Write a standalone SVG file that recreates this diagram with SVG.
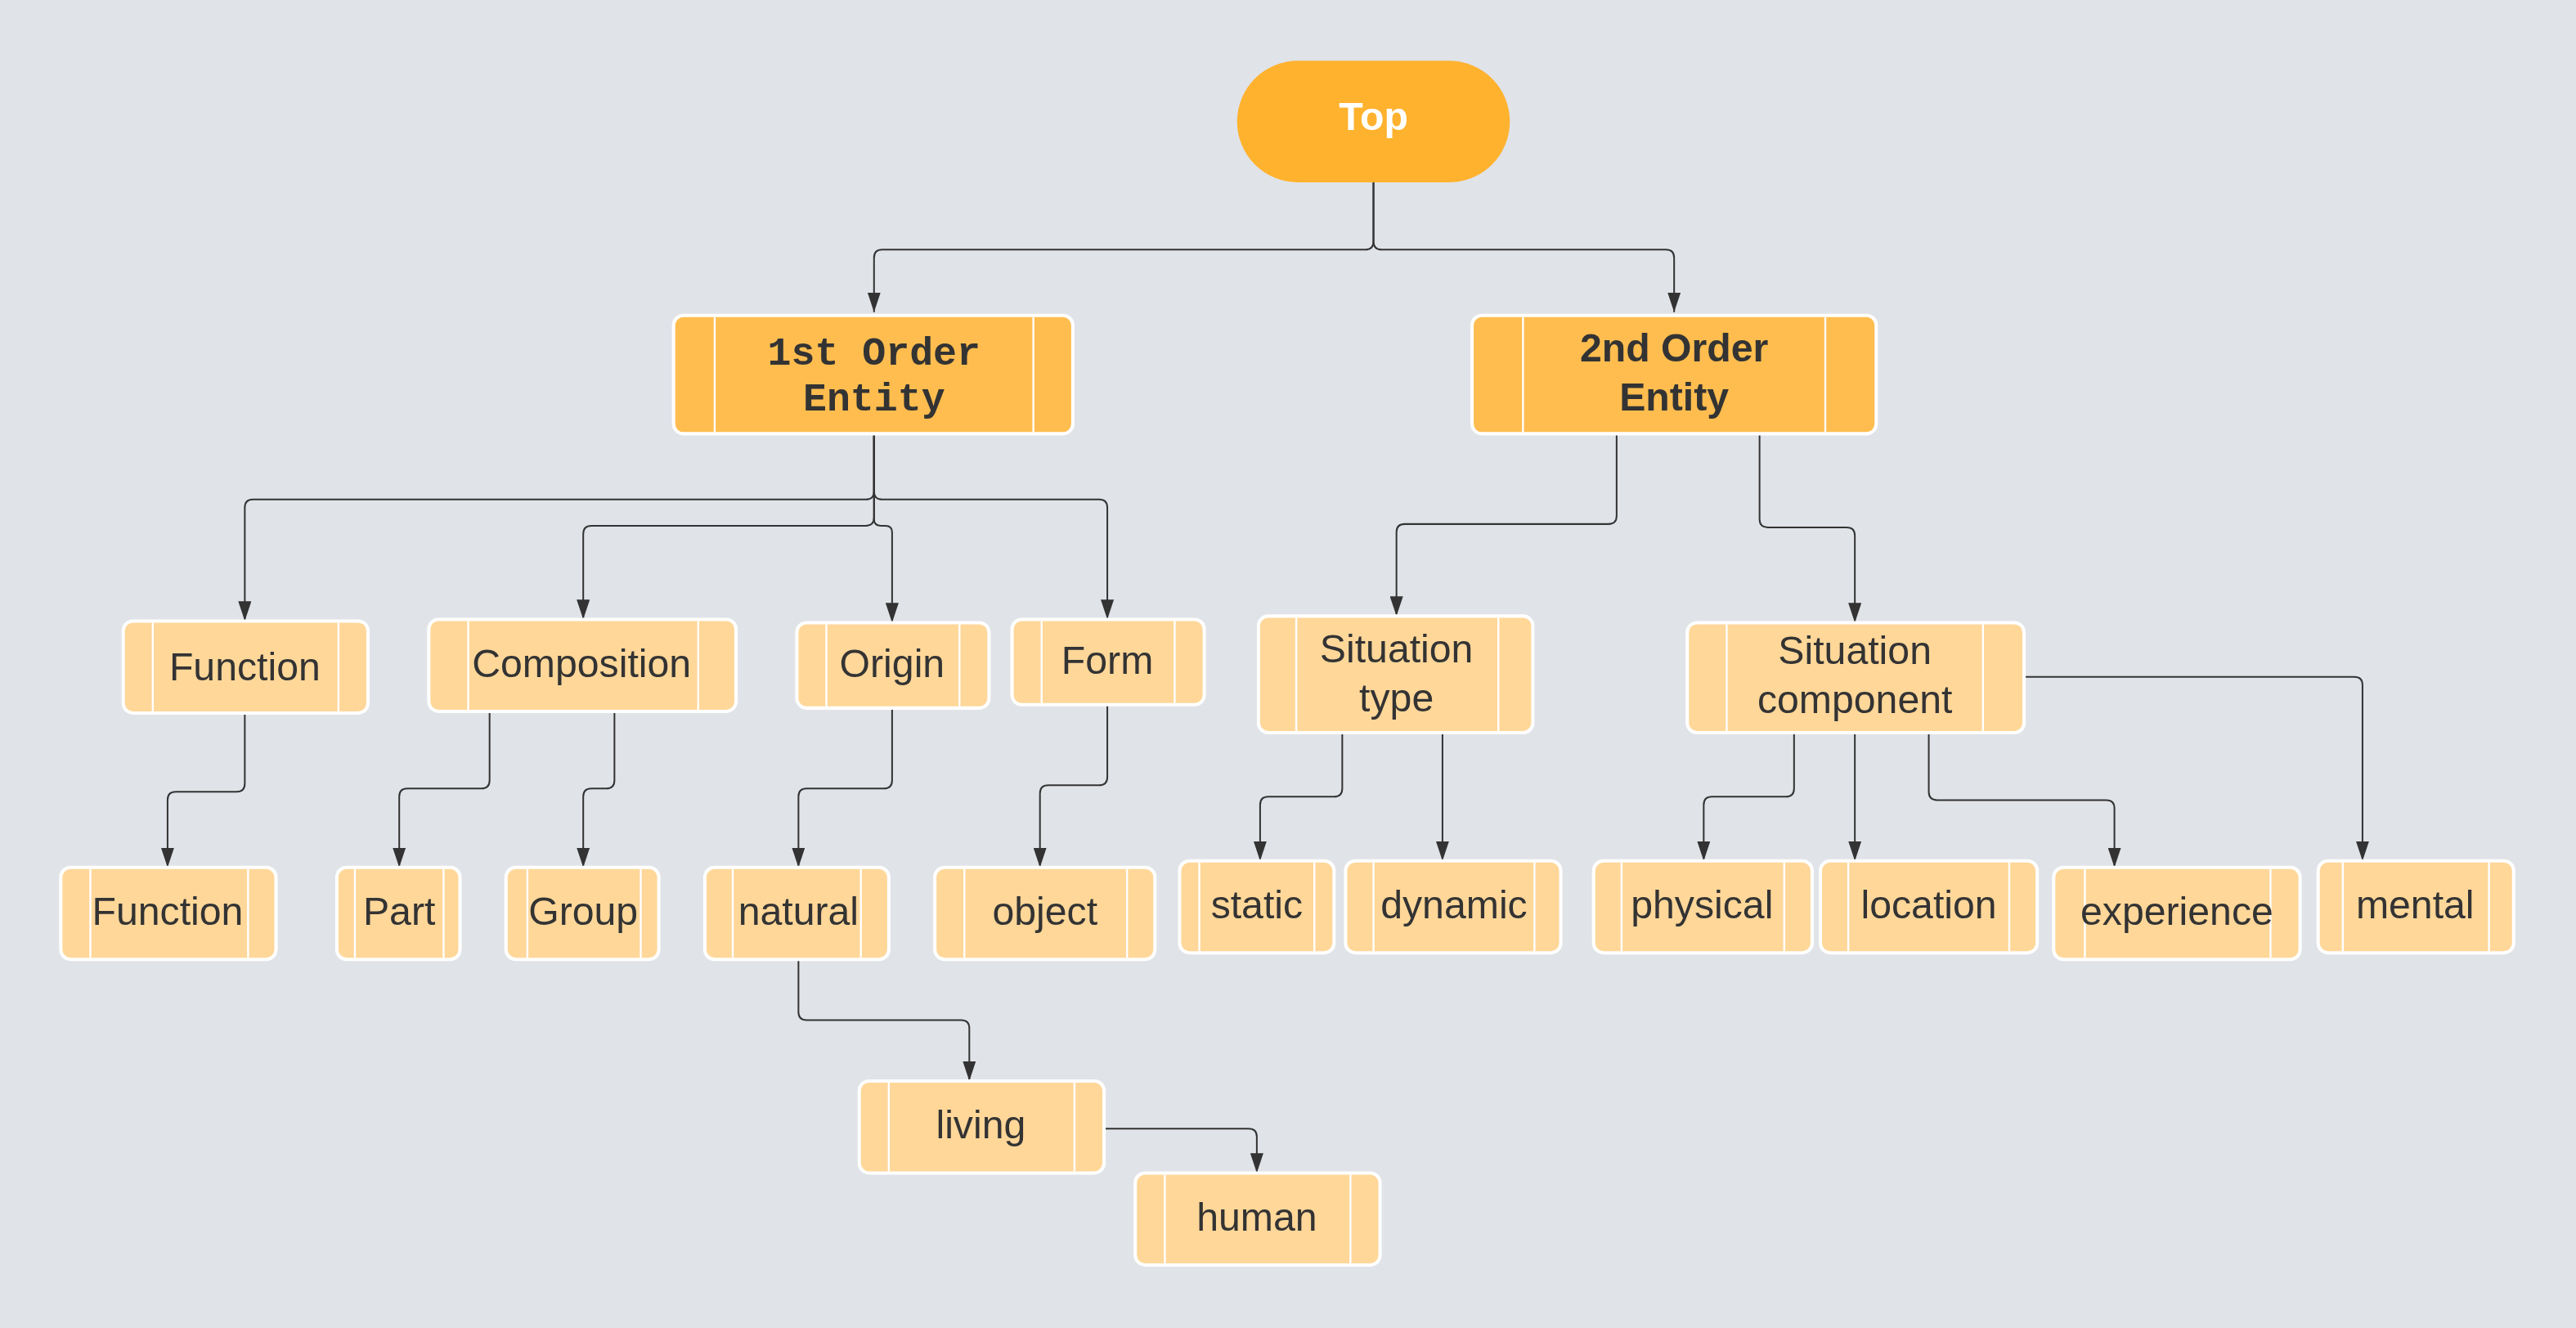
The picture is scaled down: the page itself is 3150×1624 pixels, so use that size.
<svg xmlns="http://www.w3.org/2000/svg" width="3150" height="1624" viewBox="0 0 3150 1624">
<style>
.bg{fill:#E0E3E8}
.n rect{stroke:#fff;stroke-width:2}
.n line{stroke:#fff;stroke-width:1.2}
.c rect{fill:#FFD799}
.o rect{fill:#FFBD4F}
.t{font-family:"Liberation Sans",Arial,sans-serif;font-size:24px;fill:#333;text-anchor:middle}
.m{font-family:"Liberation Mono","DejaVu Sans Mono",monospace;font-size:24px;font-weight:bold;fill:#333;text-anchor:middle}
.b{font-weight:bold}
#conn path{fill:none;stroke:#333;stroke-width:1}
</style>
<defs><marker id="a" markerUnits="userSpaceOnUse" markerWidth="12" markerHeight="8" refX="12" refY="4" orient="auto"><path d="M0,0 L12,4 L0,8 z" fill="#333"/></marker></defs>
<rect class="bg" width="3150" height="1624"/>
<g transform="scale(2.009)">
<g id="conn">
<path marker-end="url(#a)" d="M836 111 V147 Q836 152 831 152 H537 Q532 152 532 157 V190"/>
<path marker-end="url(#a)" d="M836 111 V147 Q836 152 841 152 H1014 Q1019 152 1019 157 V190"/>
<path marker-end="url(#a)" d="M532 264 V299 Q532 304 527 304 H154 Q149 304 149 309 V378"/>
<path marker-end="url(#a)" d="M532 264 V315 Q532 320 527 320 H360 Q355 320 355 325 V377"/>
<path marker-end="url(#a)" d="M532 264 V316 Q532 320 536 320 H539 Q543 320 543 324 V379"/>
<path marker-end="url(#a)" d="M532 264 V299 Q532 304 537 304 H669 Q674 304 674 309 V377"/>
<path marker-end="url(#a)" d="M984 264 V314 Q984 319 979 319 H855 Q850 319 850 324 V375"/>
<path marker-end="url(#a)" d="M1071 264 V316 Q1071 321 1076 321 H1124 Q1129 321 1129 326 V379"/>
<path marker-end="url(#a)" d="M149 434 V477 Q149 482 144 482 H107 Q102 482 102 487 V528"/>
<path marker-end="url(#a)" d="M298 433 V475 Q298 480 293 480 H248 Q243 480 243 485 V528"/>
<path marker-end="url(#a)" d="M374 433 V475 Q374 480 369 480 H360 Q355 480 355 485 V528"/>
<path marker-end="url(#a)" d="M543 431 V475 Q543 480 538 480 H491 Q486 480 486 485 V528"/>
<path marker-end="url(#a)" d="M674 429 V473 Q674 478 669 478 H638 Q633 478 633 483 V528"/>
<path marker-end="url(#a)" d="M817 446 V480 Q817 485 812 485 H772 Q767 485 767 490 V524"/>
<path marker-end="url(#a)" d="M878 446 V524"/>
<path marker-end="url(#a)" d="M1092 446 V480 Q1092 485 1087 485 H1042 Q1037 485 1037 490 V524"/>
<path marker-end="url(#a)" d="M1129 446 V524"/>
<path marker-end="url(#a)" d="M1174 446 V482 Q1174 487 1179 487 H1282 Q1287 487 1287 492 V528"/>
<path marker-end="url(#a)" d="M1232 412 H1433 Q1438 412 1438 417 V524"/>
<path marker-end="url(#a)" d="M486 584 V616 Q486 621 491 621 H585 Q590 621 590 626 V658"/>
<path marker-end="url(#a)" d="M672 687 H760 Q765 687 765 692 V714"/>
</g>
<g id="top"><rect x="753" y="37" width="166" height="74" rx="37" fill="#FFB22E"/><text class="t b" x="836" y="79" fill="#fff" style="fill:#fff">Top</text></g>
<g id="first" class="n o"><rect x="410" y="192" width="243" height="72" rx="6"/><line x1="435" y1="193" x2="435" y2="263"/><line x1="629" y1="193" x2="629" y2="263"/><text class="m" x="532" y="222">1st Order</text><text class="m" x="532" y="250">Entity</text></g>
<g id="second" class="n o"><rect x="896" y="192" width="246" height="72" rx="6"/><line x1="927" y1="193" x2="927" y2="263"/><line x1="1111" y1="193" x2="1111" y2="263"/><text class="t b" x="1019" y="220">2nd Order</text><text class="t b" x="1019" y="250">Entity</text></g>
<g id="function1" class="n c"><rect x="75" y="378" width="149" height="56" rx="6"/><line x1="93" y1="379" x2="93" y2="433"/><line x1="206" y1="379" x2="206" y2="433"/><text class="t" x="149" y="414">Function</text></g>
<g id="composition" class="n c"><rect x="261" y="377" width="187" height="56" rx="6"/><line x1="285" y1="378" x2="285" y2="432"/><line x1="425" y1="378" x2="425" y2="432"/><text class="t" x="354" y="412">Composition</text></g>
<g id="origin" class="n c"><rect x="485" y="379" width="117" height="52" rx="6"/><line x1="503" y1="380" x2="503" y2="430"/><line x1="584" y1="380" x2="584" y2="430"/><text class="t" x="543" y="412">Origin</text></g>
<g id="form" class="n c"><rect x="616" y="377" width="117" height="52" rx="6"/><line x1="634" y1="378" x2="634" y2="428"/><line x1="715" y1="378" x2="715" y2="428"/><text class="t" x="674" y="410">Form</text></g>
<g id="sittype" class="n c"><rect x="766" y="375" width="167" height="71" rx="6"/><line x1="789" y1="376" x2="789" y2="445"/><line x1="912" y1="376" x2="912" y2="445"/><text class="t" x="850" y="403">Situation</text><text class="t" x="850" y="433">type</text></g>
<g id="sitcomp" class="n c"><rect x="1027" y="379" width="205" height="67" rx="6"/><line x1="1051" y1="380" x2="1051" y2="445"/><line x1="1207" y1="380" x2="1207" y2="445"/><text class="t" x="1129" y="404">Situation</text><text class="t" x="1129" y="434">component</text></g>
<g id="function2" class="n c"><rect x="37" y="528" width="131" height="56" rx="6"/><line x1="55" y1="529" x2="55" y2="583"/><line x1="151" y1="529" x2="151" y2="583"/><text class="t" x="102" y="563">Function</text></g>
<g id="part" class="n c"><rect x="205" y="528" width="75" height="56" rx="6"/><line x1="216" y1="529" x2="216" y2="583"/><line x1="270" y1="529" x2="270" y2="583"/><text class="t" x="243" y="563">Part</text></g>
<g id="group" class="n c"><rect x="308" y="528" width="93" height="56" rx="6"/><line x1="321" y1="529" x2="321" y2="583"/><line x1="390" y1="529" x2="390" y2="583"/><text class="t" x="355" y="563">Group</text></g>
<g id="natural" class="n c"><rect x="429" y="528" width="112" height="56" rx="6"/><line x1="446" y1="529" x2="446" y2="583"/><line x1="524" y1="529" x2="524" y2="583"/><text class="t" x="486" y="563">natural</text></g>
<g id="object" class="n c"><rect x="569" y="528" width="134" height="56" rx="6"/><line x1="587" y1="529" x2="587" y2="583"/><line x1="686" y1="529" x2="686" y2="583"/><text class="t" x="636" y="563">object</text></g>
<g id="static" class="n c"><rect x="718" y="524" width="94" height="56" rx="6"/><line x1="730" y1="525" x2="730" y2="579"/><line x1="800" y1="525" x2="800" y2="579"/><text class="t" x="765" y="559">static</text></g>
<g id="dynamic" class="n c"><rect x="819" y="524" width="131" height="56" rx="6"/><line x1="836" y1="525" x2="836" y2="579"/><line x1="934" y1="525" x2="934" y2="579"/><text class="t" x="885" y="559">dynamic</text></g>
<g id="physical" class="n c"><rect x="970" y="524" width="133" height="56" rx="6"/><line x1="987" y1="525" x2="987" y2="579"/><line x1="1086" y1="525" x2="1086" y2="579"/><text class="t" x="1036" y="559">physical</text></g>
<g id="location" class="n c"><rect x="1108" y="524" width="132" height="56" rx="6"/><line x1="1125" y1="525" x2="1125" y2="579"/><line x1="1223" y1="525" x2="1223" y2="579"/><text class="t" x="1174" y="559">location</text></g>
<g id="experience" class="n c"><rect x="1250" y="528" width="150" height="56" rx="6"/><line x1="1269" y1="529" x2="1269" y2="583"/><line x1="1382" y1="529" x2="1382" y2="583"/><text class="t" x="1325" y="563">experience</text></g>
<g id="mental" class="n c"><rect x="1411" y="524" width="119" height="56" rx="6"/><line x1="1426" y1="525" x2="1426" y2="579"/><line x1="1515" y1="525" x2="1515" y2="579"/><text class="t" x="1470" y="559">mental</text></g>
<g id="living" class="n c"><rect x="523" y="658" width="149" height="56" rx="6"/><line x1="541" y1="659" x2="541" y2="713"/><line x1="654" y1="659" x2="654" y2="713"/><text class="t" x="597" y="693">living</text></g>
<g id="human" class="n c"><rect x="691" y="714" width="149" height="56" rx="6"/><line x1="709" y1="715" x2="709" y2="769"/><line x1="822" y1="715" x2="822" y2="769"/><text class="t" x="765" y="749">human</text></g>
</g>
</svg>
